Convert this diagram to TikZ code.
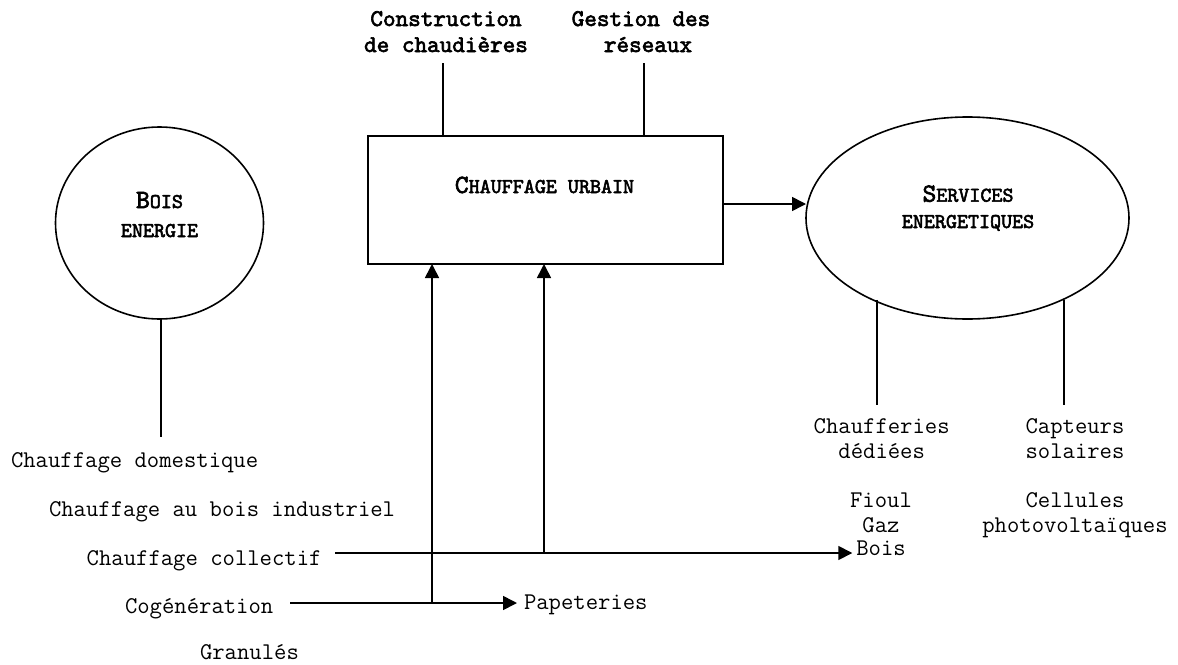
\documentclass[tikz,border=0pt]{standalone}
\usepackage{fontspec}
\usetikzlibrary{shapes.geometric,arrows.meta}
\newfontfamily\lmboldmono{lmmono10-regular.otf}[FakeBold=2.6]
\newcommand\myBigLetter[1]{{\fontsize{26.3}{26.3}\selectfont #1}}
\newcommand\mySmallCaps[1]{{\fontsize{21}{21}\selectfont #1}}
\begin{document}
\begin{tikzpicture}[x=1pt,y=-1pt,
  every node/.style={inner sep=0pt,outer sep=0pt},
  ln/.style={line width=1.6pt},
  arr/.style={ln,-{Triangle[length=14pt,width=14pt]}},
  txt/.style={anchor=base,font=\ttfamily\fontsize{24}{24}\selectfont},
  txtw/.style={anchor=base west,font=\ttfamily\fontsize{24}{24}\selectfont},
  btxt/.style={anchor=base,font=\lmboldmono\fontsize{24}{24}\selectfont},
  sc/.style={anchor=base,font=\lmboldmono},
  shp/.style={draw,ln}
]
\useasboundingbox (0,0) rectangle (1178,664);

% shapes
\node[shp,ellipse,minimum width=208pt,minimum height=192pt] (bois) at (159.5,223) {};
\node[shp,rectangle,minimum width=355pt,minimum height=128pt] (urb) at (545.5,200) {};
\node[shp,ellipse,minimum width=323pt,minimum height=202pt] (serv) at (967.5,218) {};

% shape texts
\node[sc] (boisA) at (159.5,208) {\myBigLetter{B}\mySmallCaps{OIS}};
\node[sc] (boisB) at (159.5,237) {\mySmallCaps{ENERGIE}};
\node[sc] (urbT) at (544.5,193) {\myBigLetter{C}\mySmallCaps{HAUFFAGE URBAIN}};
\node[sc] (servA) at (968,201.7) {\myBigLetter{S}\mySmallCaps{ERVICES}};
\node[sc] (servB) at (968,228) {\mySmallCaps{ENERGETIQUES}};

% top labels
\node[btxt] (con1) at (446,26) {Construction};
\node[btxt] (con2) at (446,52) {de chaudières};
\node[btxt] (ges1) at (641,26) {Gestion des};
\node[btxt] (ges2) at (648,52) {réseaux};

% left labels
\node[txtw] (dom) at (11,467.7) {Chauffage domestique};
\node[txtw] (ind) at (49,516.7) {Chauffage au bois industriel};
\node[txtw] (coll) at (86.7,565) {Chauffage collectif};
\node[txtw] (cog) at (125,613) {Cogénération};
\node[txtw] (gra) at (200,659) {Granulés};
\node[txtw] (pap) at (524,609) {Papeteries};

% right labels
\node[txt] (chf1) at (881.7,433) {Chaufferies};
\node[txt] (chf2) at (881.7,458) {dédiées};
\node[txt] (fgb1) at (881,507) {Fioul};
\node[txt] (fgb2) at (881,532) {Gaz};
\node[txt] (fgb3) at (881,555) {Bois};
\node[txt] (cap1) at (1075,433) {Capteurs};
\node[txt] (cap2) at (1075,458) {solaires};
\node[txt] (cel1) at (1075,507) {Cellules};
\node[txt] (cel2) at (1075,532) {photovoltaïques};

% connector coordinates
\coordinate (t1) at (443,63);
\coordinate (t2) at (644,63);
\coordinate (b1) at (161,437);
\coordinate (s1) at (877,405);
\coordinate (s2) at (1064,405);
\coordinate (c1) at (335,553);
\coordinate (c2) at (290,603);
\coordinate (v1) at (432,603);
\coordinate (v2) at (544,553);

% connectors
\draw[ln] (t1) -- (t1 |- urb.north);
\draw[ln] (t2) -- (t2 |- urb.north);
\draw[ln] (b1 |- bois.south) -- (b1);
\draw[ln] (s1 |- serv.221) -- (s1);
\draw[ln] (s2 |- serv.319) -- (s2);
\draw[arr] ([yshift=-4pt]urb.east) -- ([yshift=-4pt]urb.east -| serv.west);
\draw[arr,shorten >=4pt] (c1) -- (c1 -| fgb3.west);
\draw[arr,shorten >=7pt] (c2) -- (c2 -| pap.west);
\draw[arr] (v1) -- (v1 |- urb.south);
\draw[arr] (v2) -- (v2 |- urb.south);
\end{tikzpicture}
\end{document}
